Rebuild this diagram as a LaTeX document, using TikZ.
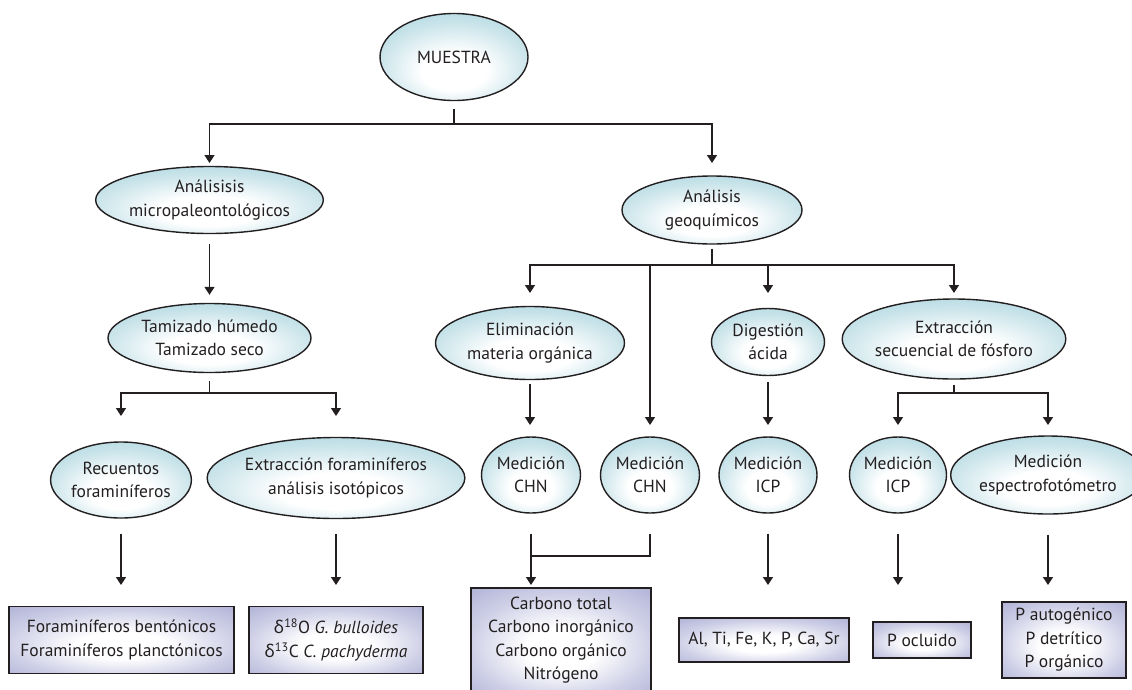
\documentclass[tikz,border=0pt]{standalone}
\usepackage{fontspec}
\setmainfont{PT Sans}
\newfontfamily\grk{Noto Sans}
\usetikzlibrary{shapes.geometric,arrows.meta}

\definecolor{elcol}{RGB}{168,211,221}
\definecolor{boxcol}{RGB}{170,172,212}
\definecolor{ink}{RGB}{35,31,32}

\pgfdeclareradialshading{elglow}{\pgfpoint{0bp}{-10bp}}{color(0bp)=(white); color(11bp)=(white); color(25bp)=(elcol!60!white); color(37bp)=(elcol); color(60bp)=(elcol)}
\pgfdeclareradialshading{boxglow}{\pgfpoint{0bp}{-5bp}}{color(0bp)=(white); color(10bp)=(white); color(26bp)=(boxcol!60!white); color(40bp)=(boxcol); color(60bp)=(boxcol)}

\begin{document}
\begin{tikzpicture}[x=1pt,y=-1pt]
    \tikzstyle{every node}=[font=\fontsize{17.5}{23.5}\selectfont, text=ink, align=center, inner sep=0pt]
    \tikzstyle{oval}=[ellipse, draw=ink, line width=1.4pt, shading=elglow]
    \tikzstyle{res}=[rectangle, draw=ink, line width=1.4pt, shading=boxglow]
    \tikzstyle{line}=[draw=ink, line width=1.5pt]
    \tikzstyle{arr}=[line, -{Triangle[length=8pt,width=10pt]}]

    \useasboundingbox (0,0) rectangle (1132,689);

    % ellipses
    \node (muestra) [oval, minimum width=148pt, minimum height=87pt] at (454,57)    {MUESTRA};
    \node (micro)   [oval, minimum width=201pt, minimum height=67pt] at (209.5,200) {Análisisis\\micropaleontológicos};
    \node (geo)     [oval, minimum width=180pt, minimum height=68pt] at (712,210)   {Análisis\\geoquímicos};
    \node (tamiz)   [oval, minimum width=203pt, minimum height=69pt] at (209.5,338) {Tamizado húmedo\\Tamizado seco};
    \node (elim)    [oval, minimum width=189pt, minimum height=73pt] at (530,343)   {Eliminación\\materia orgánica};
    \node (dig)     [oval, minimum width=113pt, minimum height=67pt] at (768,342)   {Digestión\\ácida};
    \node (secu)    [oval, minimum width=198pt, minimum height=80pt] at (954,339)   {Extracción\\secuencial de fósforo};
    \node (recu)    [oval, minimum width=133pt, minimum height=76pt] at (121,480)   {Recuentos\\foraminíferos};
    \node (extr)    [oval, minimum width=238pt, minimum height=81pt] at (336,478)   {Extracción foraminíferos\\análisis isotópicos};
    \node (chnA)    [oval, minimum width=99pt,  minimum height=76pt] at (531,475)   {Medición\\CHN};
    \node (chnB)    [oval, minimum width=99pt,  minimum height=76pt] at (650,475)   {Medición\\CHN};
    \node (icpA)    [oval, minimum width=98pt,  minimum height=76pt] at (768,475)   {Medición\\ICP};
    \node (icpB)    [oval, minimum width=97pt,  minimum height=76pt] at (898,475)   {Medición\\ICP};
    \node (espec)   [oval, minimum width=166pt, minimum height=78pt] at (1048,475)  {Medición\\espectrofotómetro};

    % results
    \node (foram) [res, minimum width=225pt, minimum height=67pt]  at (121.5,640) {Foraminíferos bentónicos\\Foraminíferos planctónicos};
    \node (delta) [res, minimum width=174pt, minimum height=67pt]  at (336,640)   {{\grk δ}\textsuperscript{18}O \textit{G. bulloides}\\{\grk δ}\textsuperscript{13}C \textit{C. pachyderma}};
    \node (carb)  [res, minimum width=180pt, minimum height=104pt] at (561,640)   {Carbono total\\Carbono inorgánico\\Carbono orgánico\\Nitrógeno};
    \node (elem)  [res, minimum width=170pt, minimum height=44pt]  at (764,640)   {Al, Ti, Fe, K, P, Ca, Sr};
    \node (ocl)   [res, minimum width=98pt,  minimum height=36pt]  at (922,640)   {P ocluido};
    \node (paut)  [res, minimum width=124pt, minimum height=76pt]  at (1064,640)  {P autogénico\\P detrítico\\P orgánico};

    % branch points and arrow rows
    \coordinate (m1) at (454,124);
    \coordinate (g1) at (712,265);
    \coordinate (t1) at (209.5,393);
    \coordinate (s1) at (954,393);
    \coordinate (c1) at (531,556);
    \coordinate (r1) at (0,163);
    \coordinate (r2) at (0,293);
    \coordinate (r3) at (0,416);
    \coordinate (r4) at (0,425);
    \coordinate (r5) at (0,585);

    \draw[line, shorten <=8pt] (muestra) -- (m1);
    \draw[arr] (m1) -| (micro |- r1);
    \draw[arr] (m1) -| (geo |- r1);
    \draw[arr, shorten <=10pt, shorten >=8pt] (micro) -- (tamiz);

    \draw[line, shorten <=4pt] (geo) -- (g1);
    \foreach \n in {elim, dig, secu}
        \draw[arr] (g1) -| (\n |- r2);
    \draw[arr] (g1) -| (chnB |- r4);
    \draw[arr, shorten <=4pt] (elim) -- (elim |- r4);
    \draw[arr, shorten <=6pt] (dig) -- (dig |- r4);

    \draw[line, shorten <=8pt] (tamiz) -- (t1);
    \foreach \n in {recu, extr}
        \draw[arr] (t1) -| (\n |- r3);
    \draw[line, shorten <=5pt] (secu) -- (s1);
    \foreach \n in {icpB, espec}
        \draw[arr] (s1) -| (\n |- r4);

    \draw[line, shorten <=20pt] (chnA) -- (c1);
    \draw[line, shorten <=20pt] (chnB) |- (c1);
    \draw[arr] (c1) -- (c1 |- r5);
    \foreach \n in {recu, extr}
        \draw[arr, shorten <=15pt] (\n) -- (\n |- r5);
    \foreach \n in {icpA, icpB, espec}
        \draw[arr, shorten <=20pt] (\n) -- (\n |- r5);
\end{tikzpicture}
\end{document}
